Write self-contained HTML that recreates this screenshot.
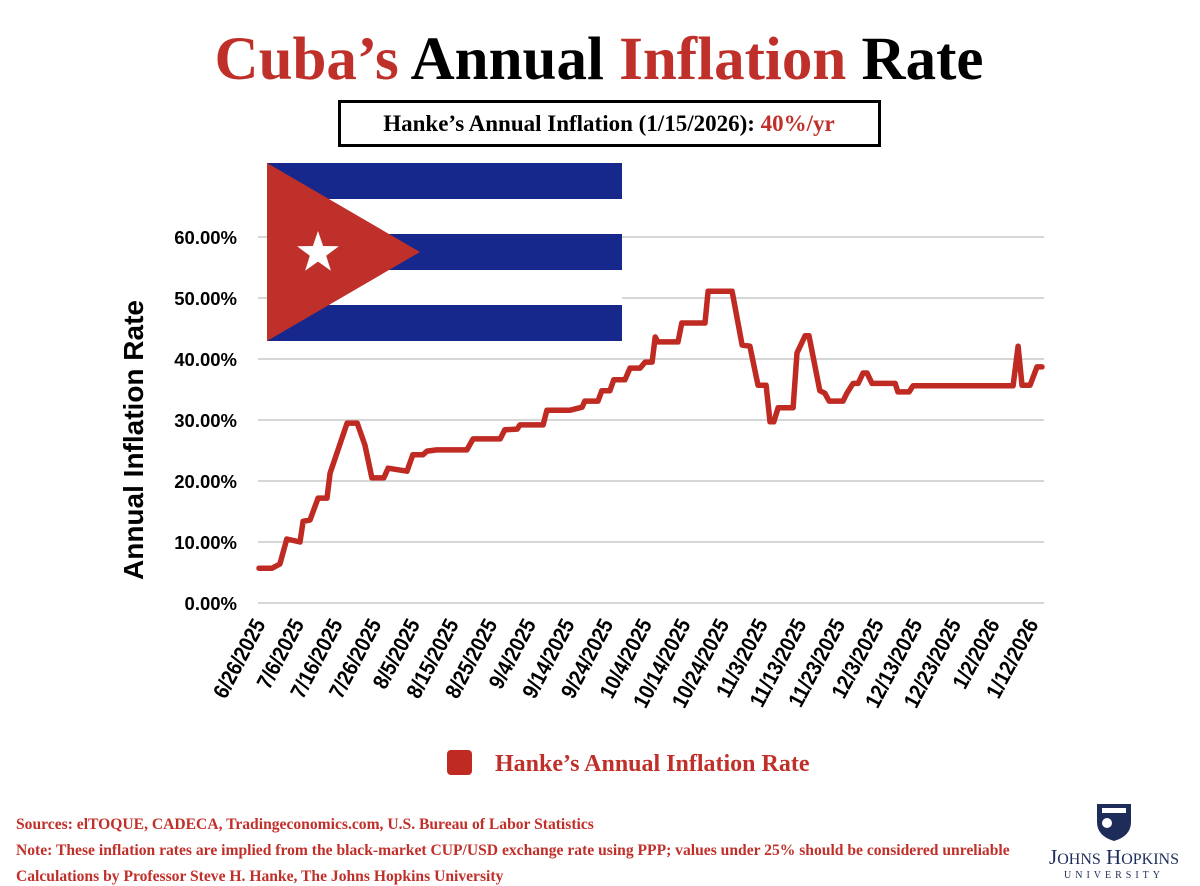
<!DOCTYPE html>
<html><head><meta charset="utf-8">
<style>
body{margin:0;background:#fff;}
#wrap{position:relative;width:1200px;height:886px;overflow:hidden;background:#fff;}
svg text{font-family:"Liberation Sans",sans-serif;}
</style></head>
<body>
<div id="wrap">
<svg id="chart" width="1200" height="886" viewBox="0 0 1200 886" xmlns="http://www.w3.org/2000/svg">
  <text x="599" y="79" text-anchor="middle" style="font-family:'Liberation Serif',serif;font-weight:bold;font-size:61px"><tspan fill="#c0302a">Cuba’s</tspan> <tspan fill="#000">Annual</tspan> <tspan fill="#c0302a">Inflation</tspan> <tspan fill="#000">Rate</tspan></text>
  <rect x="339.5" y="101.5" width="540" height="44" fill="#fff" stroke="#000" stroke-width="3"/>
  <text x="609" y="131" text-anchor="middle" style="font-family:'Liberation Serif',serif;font-weight:bold;font-size:23px"><tspan fill="#000">Hanke’s Annual Inflation (1/15/2026): </tspan><tspan fill="#c0302a">40%/yr</tspan></text>
  <g id="grid"></g>
  <g id="ylabels"></g>
  <g id="xlabels"></g>
  <g>
    <rect x="267" y="163" width="355" height="178" fill="#fff"/>
    <rect x="267" y="163" width="355" height="36" fill="#16288c"/>
    <rect x="267" y="234" width="355" height="36" fill="#16288c"/>
    <rect x="267" y="305" width="355" height="36" fill="#16288c"/>
    <polygon points="267,163 267,341 420,252" fill="#c0302a"/>
    <polygon id="star" fill="#fff"/>
  </g>
  <path id="line" fill="none" stroke="#bf2a22" stroke-width="5.5" stroke-linejoin="round" stroke-linecap="round"/>
  <text transform="translate(143,440) rotate(-90)" text-anchor="middle" style="font-weight:bold;font-size:28px" fill="#000">Annual Inflation Rate</text>
  <rect x="447" y="750" width="25" height="25" rx="4" fill="#bf2a22"/>
  <text x="495" y="771" style="font-family:'Liberation Serif',serif;font-weight:bold;font-size:24px" fill="#c0302a">Hanke’s Annual Inflation Rate</text>
  <g style="font-family:'Liberation Serif',serif;font-weight:bold;font-size:15.6px" fill="#c0302a">
    <text x="16" y="829" style="font-family:'Liberation Serif',serif">Sources: elTOQUE, CADECA, Tradingeconomics.com, U.S. Bureau of Labor Statistics</text>
    <text x="16" y="855" style="font-family:'Liberation Serif',serif">Note: These inflation rates are implied from the black-market CUP/USD exchange rate using PPP; values under 25% should be considered unreliable</text>
    <text x="16" y="881" style="font-family:'Liberation Serif',serif">Calculations by Professor Steve H. Hanke, The Johns Hopkins University</text>
  </g>
  <g>
    <path d="M1097,804 L1131,804 L1131,822 Q1131,836 1114,841 Q1097,836 1097,822 Z" fill="#1e2c5a"/>
    <rect x="1102" y="808" width="24" height="5" fill="#fff"/>
    <circle cx="1107" cy="823" r="5" fill="#fff"/>
    <text x="1114" y="864" text-anchor="middle" style="font-family:'Liberation Serif',serif;font-size:21px" fill="#1e2c5a">J<tspan font-size="16">OHNS</tspan> H<tspan font-size="16">OPKINS</tspan></text>
    <text x="1114" y="878" text-anchor="middle" style="font-family:'Liberation Serif',serif;font-size:10px;letter-spacing:4px" fill="#1e2c5a">UNIVERSITY</text>
  </g>
</svg>
</div>
<script>
const yTicks = [0, 10, 20, 30, 40, 50, 60];
const xTickLabels = ["6/26/2025","7/6/2025","7/16/2025","7/26/2025","8/5/2025","8/15/2025","8/25/2025","9/4/2025","9/14/2025","9/24/2025","10/4/2025","10/14/2025","10/24/2025","11/3/2025","11/13/2025","11/23/2025","12/3/2025","12/13/2025","12/23/2025","1/2/2026","1/12/2026"];
const dayOffsets = [0,3.4,5.4,7.2,10.6,11.4,13.2,15.3,17.6,18.4,22.8,25.4,27.4,29.2,32.3,33.4,38.3,39.8,42.4,43.5,46,53.8,55.4,62.4,63.6,66.8,67.5,73.5,74.5,80.5,83.6,84.3,87.7,88.7,90.8,91.8,94.7,96,98.6,99.9,101.7,102.5,103.2,108.4,109.4,115.4,116.2,122.4,125,127,129.1,131.2,132.2,133.2,134.3,138.2,139.2,141.3,142.3,145.1,146.4,147.5,151.1,152.1,153.7,155,156.3,157.3,158.6,164.6,165.3,168.2,169.2,195.1,196.4,197.4,199.5,201.3,202.6];
const inflationValues = [5.7,5.7,6.4,10.5,10,13.4,13.6,17.2,17.2,21.3,29.5,29.5,25.9,20.5,20.5,22.1,21.6,24.3,24.3,24.9,25.1,25.1,26.9,26.9,28.4,28.5,29.2,29.2,31.6,31.6,32.1,33.1,33.1,34.8,34.8,36.6,36.6,38.5,38.5,39.5,39.5,43.6,42.8,42.8,45.9,45.9,51.1,51.1,42.3,42.1,35.7,35.7,29.7,29.7,32,32,41,43.8,43.8,34.8,34.4,33.1,33.1,34.4,36,36,37.7,37.7,36,36,34.6,34.6,35.6,35.6,42.1,35.7,35.7,38.7,38.7];

const NS = "http://www.w3.org/2000/svg";
const X0 = 259, PX_PER_DAY = 3.865, Y0 = 603, PX_PER_PCT = 6.1;
function xScale(d){ return X0 + d * PX_PER_DAY; }
function yScale(v){ return Y0 - v * PX_PER_PCT; }

const grid = document.getElementById('grid');
const yl = document.getElementById('ylabels');
yTicks.forEach(t => {
  const l = document.createElementNS(NS,'line');
  l.setAttribute('x1',258); l.setAttribute('x2',1044);
  l.setAttribute('y1',yScale(t)); l.setAttribute('y2',yScale(t));
  l.setAttribute('stroke','#d6d6d6'); l.setAttribute('stroke-width','2');
  
  
  grid.appendChild(l);
  const tx = document.createElementNS(NS,'text');
  tx.setAttribute('x',237); tx.setAttribute('y',yScale(t)+7);
  tx.setAttribute('text-anchor','end');
  tx.setAttribute('style','font-weight:bold;font-size:18.5px');
  tx.textContent = t.toFixed(2) + '%';
  
  
  yl.appendChild(tx);
});
const xl = document.getElementById('xlabels');
xTickLabels.forEach((lab,i) => {
  const x = xScale(i*10) + 7, y = 624;
  const tx = document.createElementNS(NS,'text');
  tx.setAttribute('transform','translate('+x+','+y+') rotate(-62) scale(0.88,1)');
  tx.setAttribute('text-anchor','end');
  tx.setAttribute('style','font-weight:bold;font-size:22px');
  tx.textContent = lab;
  
  
  xl.appendChild(tx);
});
let d = '';
dayOffsets.forEach((dd,i) => {
  d += (i ? 'L' : 'M') + xScale(dd).toFixed(1) + ',' + yScale(inflationValues[i]).toFixed(1);
});
document.getElementById('line').setAttribute('d', d);
const cx=318, cy=253, R=22, r=8.6; let pts=[];
for(let k=0;k<10;k++){ const a=-Math.PI/2 + k*Math.PI/5; const rr = k%2?r:R; pts.push((cx+rr*Math.cos(a)).toFixed(1)+','+(cy+rr*Math.sin(a)).toFixed(1)); }
document.getElementById('star').setAttribute('points', pts.join(' '));
</script>
</body></html>
